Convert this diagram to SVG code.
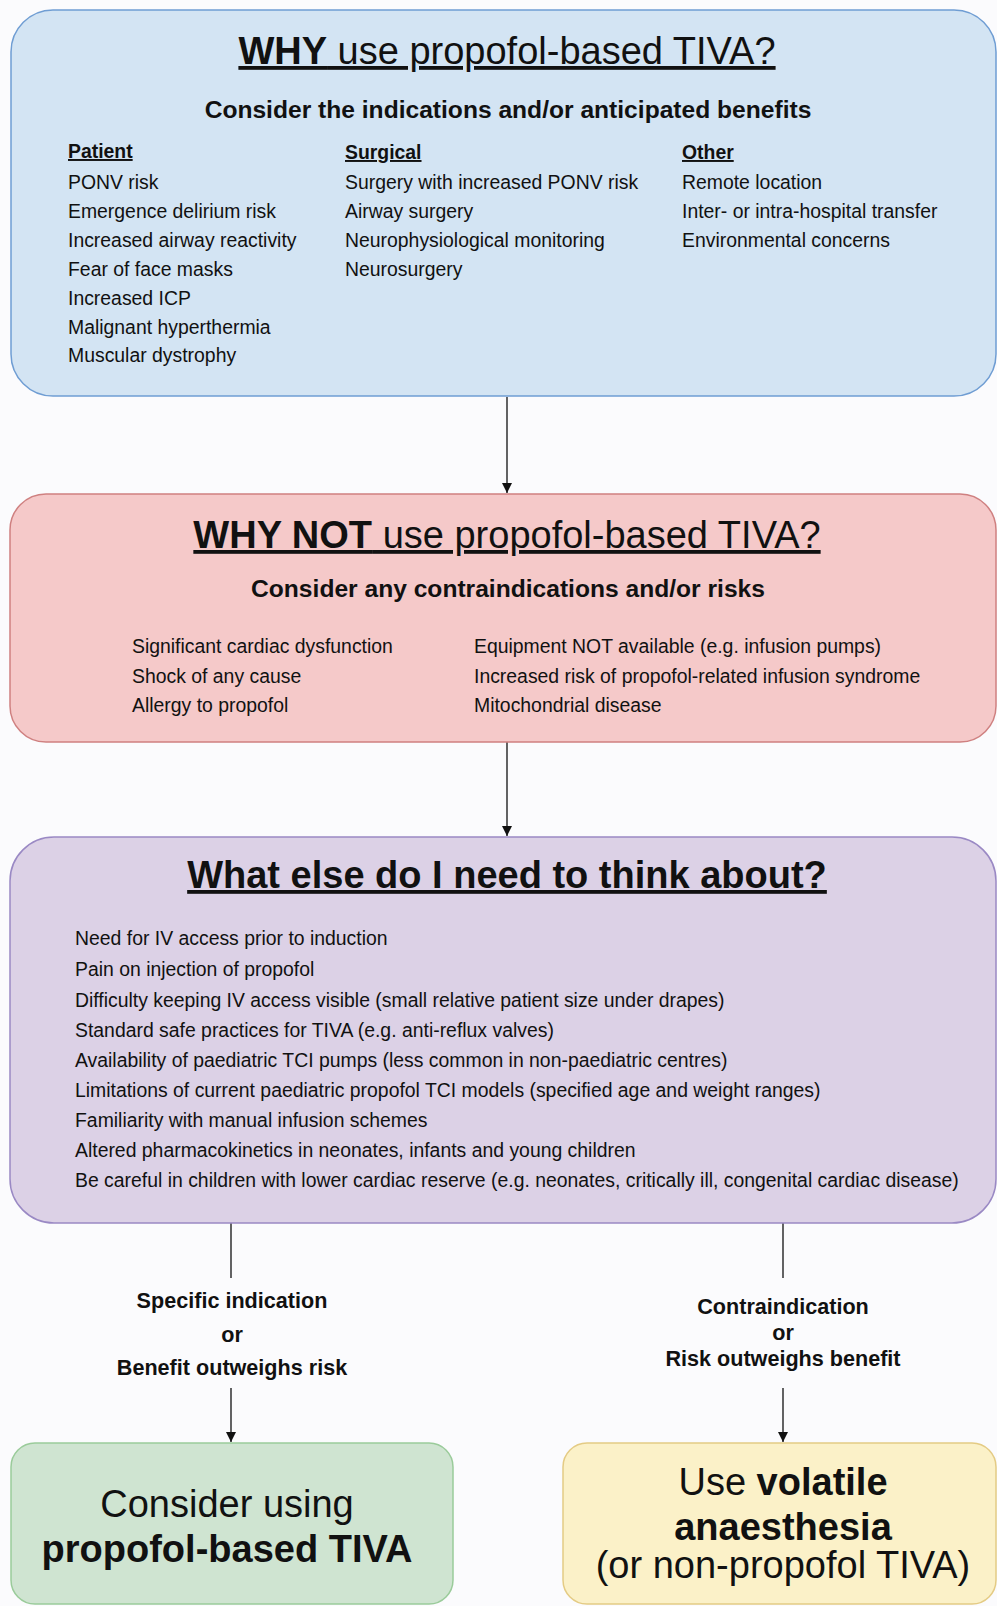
<svg xmlns="http://www.w3.org/2000/svg" width="997" height="1606" viewBox="0 0 997 1606">
<style>
text{font-family:"Liberation Sans",Arial,Helvetica,sans-serif;fill:#111}
.title{font-size:38px;text-decoration:underline}
.sub{font-size:24.6px;font-weight:bold}
.hd{font-size:19.4px;font-weight:bold;text-decoration:underline}
.it{font-size:19.4px}
.lb{font-size:21.6px;font-weight:bold}
.big{font-size:38px}
.b{font-weight:bold}
.conn{stroke:#222;stroke-width:1.4;fill:none}
</style>
<defs>
<marker id="ah" viewBox="0 0 10 10" refX="10" refY="5" markerWidth="10" markerHeight="10" markerUnits="userSpaceOnUse" orient="auto">
<path d="M0,0 L10,5 L0,10 Z" fill="#111"/>
</marker>
</defs>
<rect x="0" y="0" width="997" height="1606" fill="#fbfbfd"/>
<g id="connectors">
<line class="conn" x1="507" y1="397" x2="507" y2="493" marker-end="url(#ah)"/>
<line class="conn" x1="507" y1="742" x2="507" y2="836" marker-end="url(#ah)"/>
<line class="conn" x1="231" y1="1223" x2="231" y2="1278"/>
<line class="conn" x1="231" y1="1388" x2="231" y2="1442" marker-end="url(#ah)"/>
<line class="conn" x1="783" y1="1223" x2="783" y2="1278"/>
<line class="conn" x1="783" y1="1388" x2="783" y2="1442" marker-end="url(#ah)"/>
<text class="lb" x="232" y="1308" text-anchor="middle">Specific indication</text>
<text class="lb" x="232" y="1342" text-anchor="middle">or</text>
<text class="lb" x="232" y="1375" text-anchor="middle">Benefit outweighs risk</text>
<text class="lb" x="783" y="1314" text-anchor="middle">Contraindication</text>
<text class="lb" x="783" y="1340" text-anchor="middle">or</text>
<text class="lb" x="783" y="1366" text-anchor="middle">Risk outweighs benefit</text>
</g>
<g id="why">
<rect x="11" y="10" width="985" height="386" rx="42" ry="42" fill="#d3e4f3" stroke="#6f9dd3" stroke-width="1.5"/>
<text class="title" x="507" y="64" text-anchor="middle"><tspan class="b">WHY</tspan> use propofol-based TIVA?</text>
<text class="sub" x="508" y="118" text-anchor="middle">Consider the indications and/or anticipated benefits</text>
<text class="hd" x="68" y="158">Patient</text>
<text class="it" x="68" y="189">PONV risk</text>
<text class="it" x="68" y="218">Emergence delirium risk</text>
<text class="it" x="68" y="247">Increased airway reactivity</text>
<text class="it" x="68" y="276">Fear of face masks</text>
<text class="it" x="68" y="305">Increased ICP</text>
<text class="it" x="68" y="334">Malignant hyperthermia</text>
<text class="it" x="68" y="362">Muscular dystrophy</text>
<text class="hd" x="345" y="159">Surgical</text>
<text class="it" x="345" y="189">Surgery with increased PONV risk</text>
<text class="it" x="345" y="218">Airway surgery</text>
<text class="it" x="345" y="247">Neurophysiological monitoring</text>
<text class="it" x="345" y="276">Neurosurgery</text>
<text class="hd" x="682" y="159">Other</text>
<text class="it" x="682" y="189">Remote location</text>
<text class="it" x="682" y="218">Inter- or intra-hospital transfer</text>
<text class="it" x="682" y="247">Environmental concerns</text>
</g>
<g id="whynot">
<rect x="10" y="494" width="986" height="248" rx="36" ry="36" fill="#f5c9c9" stroke="#cf8080" stroke-width="1.5"/>
<text class="title" x="507" y="548" text-anchor="middle"><tspan class="b">WHY NOT</tspan> use propofol-based TIVA?</text>
<text class="sub" x="508" y="597" text-anchor="middle">Consider any contraindications and/or risks</text>
<text class="it" x="132" y="653">Significant cardiac dysfunction</text>
<text class="it" x="132" y="683">Shock of any cause</text>
<text class="it" x="132" y="712">Allergy to propofol</text>
<text class="it" x="474" y="653">Equipment NOT available (e.g. infusion pumps)</text>
<text class="it" x="474" y="683">Increased risk of propofol-related infusion syndrome</text>
<text class="it" x="474" y="712">Mitochondrial disease</text>
</g>
<g id="whatelse">
<rect x="10" y="837" width="986" height="386" rx="44" ry="44" fill="#dcd1e6" stroke="#9a89c4" stroke-width="1.5"/>
<text class="title b" x="507" y="888" text-anchor="middle">What else do I need to think about?</text>
<text class="it" x="75" y="945">Need for IV access prior to induction</text>
<text class="it" x="75" y="976">Pain on injection of propofol</text>
<text class="it" x="75" y="1007">Difficulty keeping IV access visible (small relative patient size under drapes)</text>
<text class="it" x="75" y="1037">Standard safe practices for TIVA (e.g. anti-reflux valves)</text>
<text class="it" x="75" y="1067">Availability of paediatric TCI pumps (less common in non-paediatric centres)</text>
<text class="it" x="75" y="1097">Limitations of current paediatric propofol TCI models (specified age and weight ranges)</text>
<text class="it" x="75" y="1127">Familiarity with manual infusion schemes</text>
<text class="it" x="75" y="1157">Altered pharmacokinetics in neonates, infants and young children</text>
<text class="it" x="75" y="1187">Be careful in children with lower cardiac reserve (e.g. neonates, critically ill, congenital cardiac disease)</text>
</g>
<g id="tiva">
<rect x="11" y="1443" width="442" height="161" rx="24" ry="24" fill="#cfe4d1" stroke="#9acb9a" stroke-width="1.5"/>
<text class="big" x="227" y="1517" text-anchor="middle">Consider using</text>
<text class="big b" x="227" y="1562" text-anchor="middle">propofol-based TIVA</text>
</g>
<g id="volatile">
<rect x="563" y="1443" width="433" height="161" rx="24" ry="24" fill="#fbf1c8" stroke="#e4cb84" stroke-width="1.5"/>
<text class="big" x="783" y="1495" text-anchor="middle">Use <tspan class="b">volatile</tspan></text>
<text class="big b" x="783" y="1540" text-anchor="middle">anaesthesia</text>
<text class="big" x="783" y="1578" text-anchor="middle">(or non-propofol TIVA)</text>
</g>
</svg>
